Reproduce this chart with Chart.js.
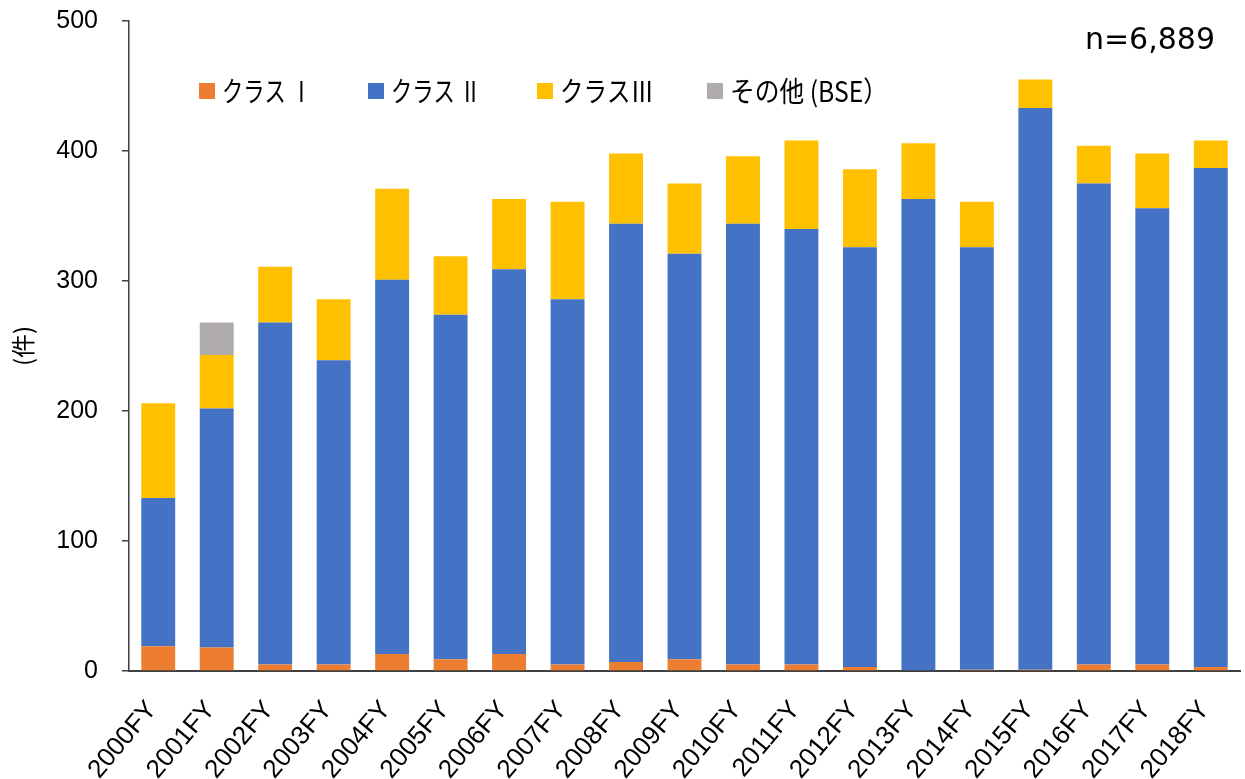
<!DOCTYPE html>
<html>
<head>
<meta charset="utf-8">
<script src="https://cdn.jsdelivr.net/npm/chart.js@4/dist/chart.umd.min.js"></script>
<style>
html,body{margin:0;padding:0;background:#fff;}
#wrap{width:1245px;height:779px;position:relative;}
</style>
</head>
<body>
<div id="wrap"><canvas id="c" width="1245" height="779"></canvas></div>
<script>
const categories = ["2000FY","2001FY","2002FY","2003FY","2004FY","2005FY","2006FY","2007FY","2008FY","2009FY","2010FY","2011FY","2012FY","2013FY","2014FY","2015FY","2016FY","2017FY","2018FY"];
const classI   = [19,18,5,5,13,9,13,5,7,9,5,5,3,0,1,1,5,5,3];
const classII  = [114,184,263,234,288,265,296,281,337,312,339,335,323,363,325,432,370,351,384];
const classIII = [73,41,43,47,70,45,54,75,54,54,52,68,60,43,35,22,29,42,21];
const otherBSE = [0,25,0,0,0,0,0,0,0,0,0,0,0,0,0,0,0,0,0];
const seriesNames = ["クラス Ⅰ","クラス Ⅱ","クラスⅢ","その他 (BSE）"];
const yTicks = [0,100,200,300,400,500];
const totalLabel = "n=6,889";
const yTitle = "(件)";

const colors = ["#ED7D31","#4472C4","#FFC000","#AFABAB"];
const tickFont = '"Liberation Sans", Arial, sans-serif';

const legendPlugin = {
  id: 'customLegend',
  afterDraw(chart) {
    const ctx = chart.ctx;
    const xs = [199, 368, 537, 707];
    const widths = [90, 90, 94, 158];
    const y = 91;
    ctx.save();
    chart.data.datasets.forEach((ds, i) => {
      ctx.fillStyle = ds.backgroundColor;
      ctx.fillRect(xs[i], y - 8, 16, 16);
      ctx.font = '28px "Noto Sans CJK JP"';
      const w = ctx.measureText(ds.label).width;
      ctx.save();
      ctx.translate(xs[i] + 23, y);
      ctx.scale(widths[i] / w, 1);
      ctx.fillStyle = '#000';
      ctx.textBaseline = 'middle';
      ctx.textAlign = 'left';
      ctx.fillText(ds.label, 0, 0);
      ctx.restore();
    });
    ctx.fillStyle = '#000';
    ctx.font = '30px "DejaVu Sans"';
    ctx.textAlign = 'right';
    ctx.textBaseline = 'middle';
    ctx.fillText(totalLabel, 1215, 41);
    ctx.save();
    ctx.translate(23, 346);
    ctx.rotate(-Math.PI/2);
    ctx.font = '24px "Noto Sans CJK JP"';
    ctx.textAlign = 'center';
    ctx.textBaseline = 'middle';
    ctx.fillText(yTitle, 0, 0);
    ctx.restore();
    ctx.restore();
  }
};

new Chart(document.getElementById('c'), {
  type: 'bar',
  data: {
    labels: categories,
    datasets: [
      {label: seriesNames[0], data: classI, backgroundColor: colors[0]},
      {label: seriesNames[1], data: classII, backgroundColor: colors[1]},
      {label: seriesNames[2], data: classIII, backgroundColor: colors[2]},
      {label: seriesNames[3], data: otherBSE, backgroundColor: colors[3]}
    ]
  },
  options: {
    responsive: false,
    animation: false,
    devicePixelRatio: 1,
    layout: {padding: {top: 21, right: 5, left: 0, bottom: 0}},
    datasets: {bar: {categoryPercentage: 1.0, barPercentage: 0.58, borderWidth: 0}},
    plugins: {legend: {display: false}, tooltip: {enabled: false}},
    scales: {
      x: {
        stacked: true,
        grid: {display: false, drawTicks: false},
        border: {display: true, color: '#404040', width: 2},
        ticks: {
          color: '#000',
          font: {family: tickFont, size: 26},
          minRotation: 50, maxRotation: 50, padding: 24, labelOffset: -6
        },
        afterFit(scale) { scale.height = 108; scale.paddingLeft = 0; scale.paddingRight = 0; }
      },
      y: {
        stacked: true,
        min: 0, max: 500,
        afterBuildTicks(scale) { scale.ticks = yTicks.map(v => ({value: v})); },
        grid: {display: true, drawOnChartArea: false, drawTicks: true, tickLength: 7, color: '#404040', lineWidth: 1.5},
        border: {display: true, color: '#404040', width: 1.5},
        ticks: {
          color: '#000',
          font: {family: tickFont, size: 25},
          padding: 24
        },
        afterFit(scale) { scale.width = 129; scale.paddingTop = 0; scale.paddingBottom = 0; }
      }
    }
  },
  plugins: [legendPlugin]
});
</script>
</body>
</html>
